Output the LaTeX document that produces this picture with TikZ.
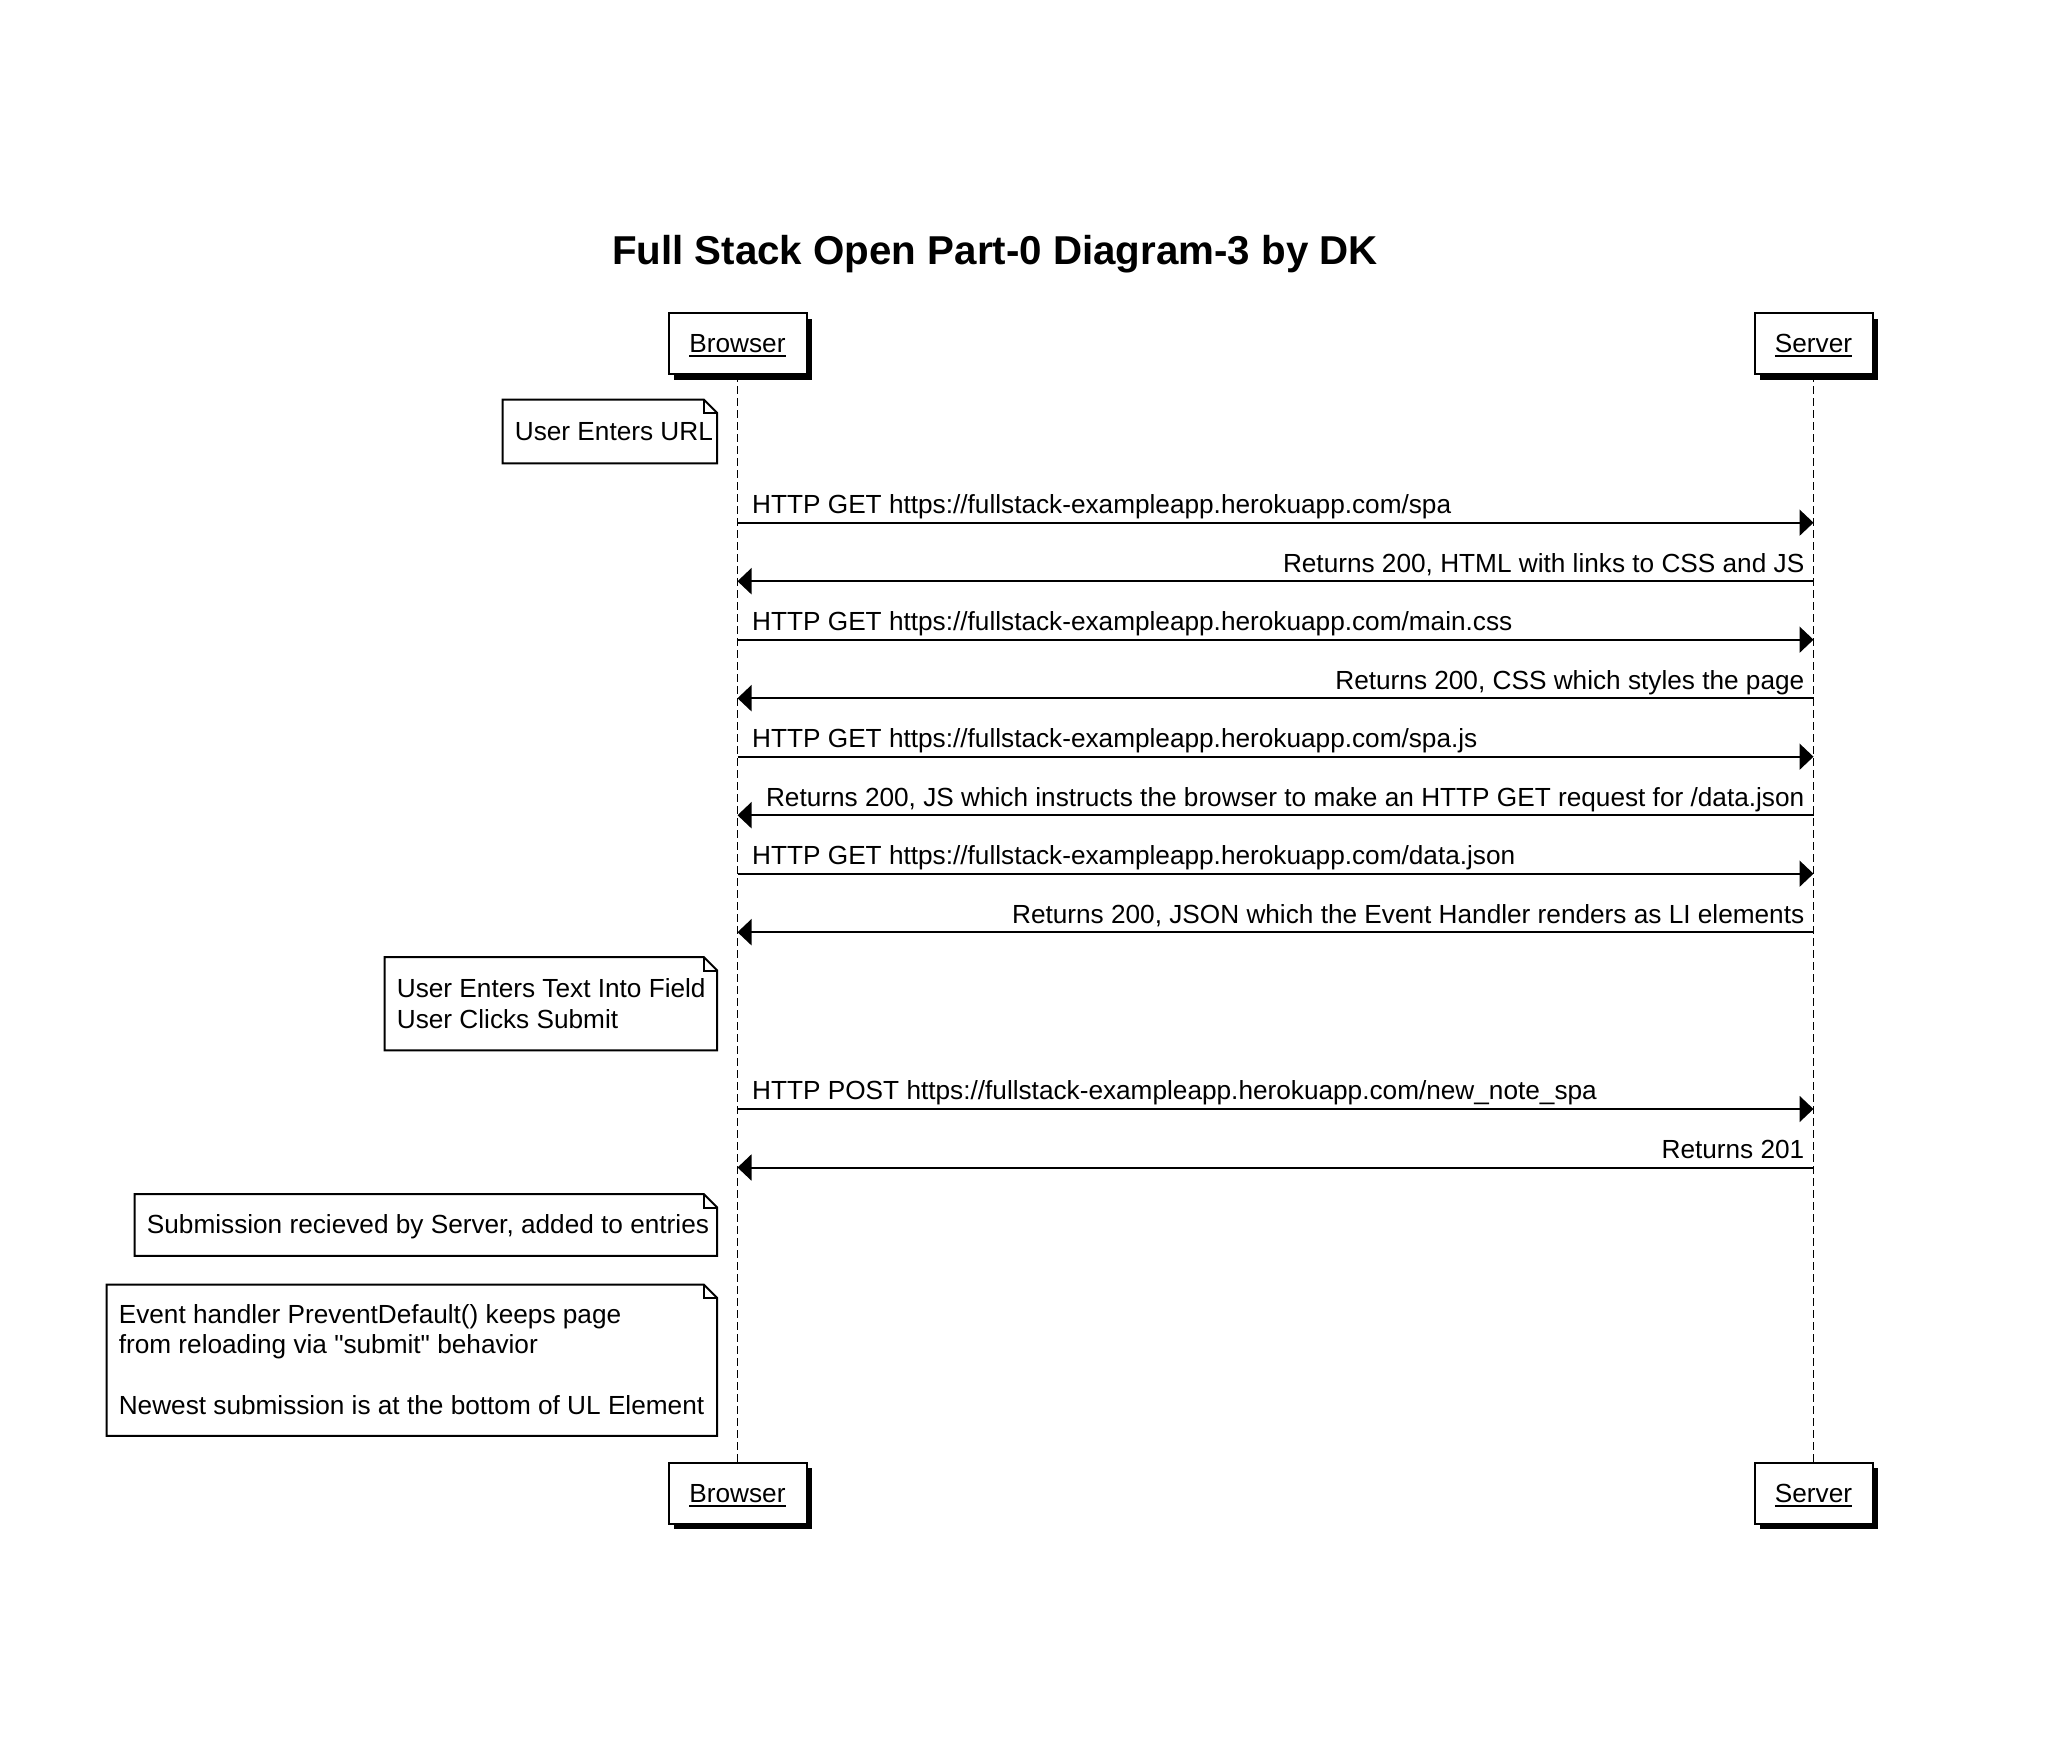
\documentclass[tikz,border=0pt]{standalone}
\usepackage{fontspec}
\setmainfont{Liberation Sans}[Ligatures=TeXOff]
\usetikzlibrary{arrows.meta,shadows}

\newcommand\myul[1]{\setbox0\hbox{#1}\rlap{\rule[-4pt]{\wd0}{1.8pt}}\box0}
\newcommand\dognote[7]{%
  \node[inner sep=0pt, minimum width={#4-#2}, minimum height={#5-#3}, anchor=north west] (#1) at (#2,#3) {};
  \draw[noteline] (#1.north west) -- ([xshift=-13.5pt]#1.north east) -- ([yshift=-13.5pt]#1.north east) -- (#1.south east) -- (#1.south west) -- cycle;
  \draw[noteline] ([xshift=-13.5pt]#1.north east) |- ([yshift=-13.5pt]#1.north east);
  \node[lbl, anchor=base west] (#1t) at ({#2+12},#6) {\begin{tabular}[t]{@{}l@{}}#7\end{tabular}};%
}

\begin{document}
\begin{tikzpicture}[x=1pt,y=-1pt,
  lbl/.style={font=\fontsize{26.2}{30.4}\selectfont, inner sep=0pt},
  part/.style={draw=black, line width=2pt, fill=white, minimum width=#1, minimum height=61pt,
    inner sep=0pt, text height=18.8pt, text depth=0pt, font=\fontsize{26.2}{30.4}\selectfont,
    drop shadow={shadow xshift=5.5pt, shadow yshift=-5.5pt, opacity=1, fill=black}},
  life/.style={line width=1.5pt, dash pattern=on 8pt off 4pt},
  msg/.style={line width=2pt, -{Triangle[length=14pt,width=26pt]}},
  noteline/.style={draw=black, line width=2pt}
]
\useasboundingbox (0,0) rectangle (2072,1758);

\node[font=\bfseries\fontsize{40.3}{48}\selectfont, inner sep=0pt, anchor=base] (title) at (995,264.5) {Full Stack Open Part-0 Diagram-3 by DK};

% lifelines (drawn first, boxes on top)
\coordinate (bl0) at (737.5,374);
\coordinate (bl1) at (737.5,1462.5);
\coordinate (sl0) at (1813.5,374);
\coordinate (sl1) at (1813.5,1462.5);
\draw[life] (bl0) -- (bl1);
\draw[life] (sl0) -- (sl1);

\node[part=138pt] (bT) at (737.5,343.5) {\myul{Browser}};
\node[part=118pt] (sT) at (1813.5,343.5) {\myul{Server}};
\node[part=138pt] (bB) at (737.5,1493.2) {\myul{Browser}};
\node[part=118pt] (sB) at (1813.5,1493.2) {\myul{Server}};

% messages
\foreach \i/\y in {1/522.7,2/581.2,3/639.7,4/698.2,5/756.7,6/815.2,7/873.7,8/932.2,9/1109,10/1167.5}{
  \coordinate (b\i) at (737.5,\y);
  \coordinate (s\i) at (1813.5,\y);
}
\draw[msg] (b1) -- (s1);
\draw[msg] (s2) -- (b2);
\draw[msg] (b3) -- (s3);
\draw[msg] (s4) -- (b4);
\draw[msg] (b5) -- (s5);
\draw[msg] (s6) -- (b6);
\draw[msg] (b7) -- (s7);
\draw[msg] (s8) -- (b8);
\draw[msg] (b9) -- (s9);
\draw[msg] (s10) -- (b10);

\node[lbl, anchor=base west] (m1) at ([xshift=14.5pt,yshift=9.4pt]b1) {HTTP GET https://fullstack-exampleapp.herokuapp.com/spa};
\node[lbl, anchor=base east] (m2) at ([xshift=-9pt,yshift=9pt]s2) {Returns 200, HTML with links to CSS and JS};
\node[lbl, anchor=base west] (m3) at ([xshift=14.5pt,yshift=9.4pt]b3) {HTTP GET https://fullstack-exampleapp.herokuapp.com/main.css};
\node[lbl, anchor=base east] (m4) at ([xshift=-9pt,yshift=9pt]s4) {Returns 200, CSS which styles the page};
\node[lbl, anchor=base west] (m5) at ([xshift=14.5pt,yshift=9.4pt]b5) {HTTP GET https://fullstack-exampleapp.herokuapp.com/spa.js};
\node[lbl, anchor=base east] (m6) at ([xshift=-9pt,yshift=9pt]s6) {Returns 200, JS which instructs the browser to make an HTTP GET request for /data.json};
\node[lbl, anchor=base west] (m7) at ([xshift=14.5pt,yshift=9.4pt]b7) {HTTP GET https://fullstack-exampleapp.herokuapp.com/data.json};
\node[lbl, anchor=base east] (m8) at ([xshift=-9pt,yshift=9pt]s8) {Returns 200, JSON which the Event Handler renders as LI elements};
\node[lbl, anchor=base west] (m9) at ([xshift=14.5pt,yshift=9.4pt]b9) {HTTP POST https://fullstack-exampleapp.herokuapp.com/new\_note\_spa};
\node[lbl, anchor=base east] (m10) at ([xshift=-9pt,yshift=9pt]s10) {Returns 201};

% notes
\dognote{n1}{502.7}{399.5}{716.8}{463}{440.4}{User Enters URL}
\dognote{n2}{384.7}{957}{716.8}{1050}{997.8}{User Enters Text Into Field\\User Clicks Submit}
\dognote{n3}{134.7}{1194}{716.8}{1255.5}{1233.5}{Submission recieved by Server, added to entries}
\dognote{n4}{106.6}{1284.5}{716.8}{1435.5}{1323}{Event handler PreventDefault() keeps page\\from reloading via "submit" behavior\\ \\Newest submission is at the bottom of UL Element}
\end{tikzpicture}
\end{document}
